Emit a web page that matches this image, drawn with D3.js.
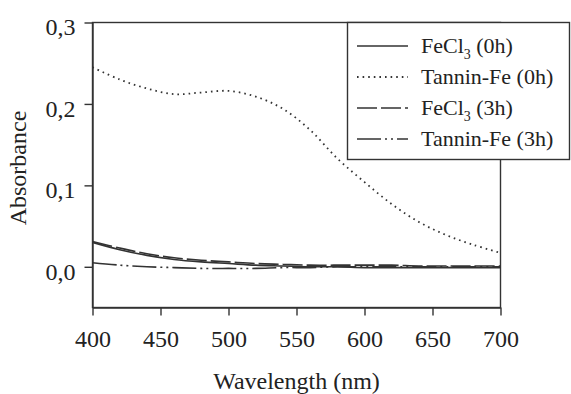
<!DOCTYPE html>
<html><head><meta charset="utf-8">
<script src="https://cdn.jsdelivr.net/npm/d3@7"></script>
<style>
html,body{margin:0;padding:0;background:#fff;}
text{font-family:"Liberation Serif","Times New Roman",serif;fill:#222;}
</style></head>
<body>
<svg id="chart" width="571" height="394"></svg>
<script>
const wavelengths = [400,420,440,460,480,500,520,540,560,580,600,620,640,660,680,700];
const fecl3_0h   = [0.030,0.021,0.014,0.009,0.006,0.004,0.002,0.001,0.000,0.000,-0.001,-0.001,-0.001,-0.001,-0.001,-0.001];
const tannin_0h  = [0.245,0.230,0.219,0.212,0.214,0.216,0.209,0.194,0.168,0.133,0.104,0.077,0.055,0.039,0.027,0.017];
const fecl3_3h   = [0.031,0.023,0.016,0.011,0.008,0.006,0.004,0.003,0.002,0.002,0.002,0.002,0.001,0.001,0.001,0.001];
const tannin_3h  = [0.005,0.002,0.000,-0.001,-0.002,-0.002,-0.002,-0.001,-0.001,0.000,0.000,0.000,0.000,0.000,0.000,0.000];
const seriesNames = ["FeCl\u2083 (0h)","Tannin-Fe (0h)","FeCl\u2083 (3h)","Tannin-Fe (3h)"];
const xTicks = [400,450,500,550,600,650,700];
const yTicks = [0.0,0.1,0.2,0.3];
const yTickLabels = ["0,0","0,1","0,2","0,3"];

const series = [
  {name:"FeCl3 (0h)", base:"FeCl", sub:"3", rest:" (0h)", values:fecl3_0h, dash:null, w:1.6},
  {name:"Tannin-Fe (0h)", base:"Tannin-Fe (0h)", values:tannin_0h, dash:"1.6,4", w:1.8},
  {name:"FeCl3 (3h)", base:"FeCl", sub:"3", rest:" (3h)", values:fecl3_3h, dash:"20,4", w:1.6},
  {name:"Tannin-Fe (3h)", base:"Tannin-Fe (3h)", values:tannin_3h, dash:"24,4,2,4,2,4", w:1.6}
];

const svg = d3.select("#chart");
const L=92.5, R=500.5, T=22.5, B=307.5;
const x = d3.scaleLinear().domain([400,700]).range([L,R]);
const y = d3.scaleLinear().domain([-0.05,0.3]).range([B,T]);
const col = "#333";

// frame
svg.append("rect").attr("x",L).attr("y",T).attr("width",R-L).attr("height",B-T)
  .attr("fill","none").attr("stroke",col).attr("stroke-width",1.4);

// x axis
const xa = svg.append("g").attr("transform",`translate(0,${B})`)
  .call(d3.axisBottom(x).tickValues(xTicks).tickSize(8).tickSizeOuter(0).tickPadding(14));
xa.select(".domain").attr("stroke",col).attr("stroke-width",1.4);
xa.selectAll(".tick line").attr("stroke",col).attr("stroke-width",1.4);
xa.selectAll(".tick text").attr("font-size","24px").attr("font-family","Liberation Serif").attr("fill","#222");

// y axis
const ya = svg.append("g").attr("transform",`translate(${L},0)`)
  .call(d3.axisLeft(y).tickValues(yTicks).tickFormat((d,i)=>yTickLabels[i]).tickSize(8).tickSizeOuter(0).tickPadding(9));
ya.select(".domain").attr("stroke",col).attr("stroke-width",1.4);
ya.selectAll(".tick line").attr("stroke",col).attr("stroke-width",1.4);
ya.selectAll(".tick text").attr("font-size","24px").attr("font-family","Liberation Serif").attr("fill","#222").attr("dy","0.52em");

// axis titles
svg.append("text").attr("x",(L+R)/2).attr("y",389).attr("text-anchor","middle")
  .attr("font-size","24px").text("Wavelength (nm)");
svg.append("text").attr("transform","translate(26,168) rotate(-90)").attr("text-anchor","middle")
  .attr("font-size","24px").text("Absorbance");

// lines
const line = d3.line().x((d,i)=>x(wavelengths[i])).y(d=>y(d)).curve(d3.curveCatmullRom.alpha(0.5));
const plot = svg.append("g");
series.forEach(s=>{
  const p = plot.append("path").attr("d",line(s.values)).attr("fill","none")
    .attr("stroke",col).attr("stroke-width",s.w);
  if(s.dash) p.attr("stroke-dasharray",s.dash);
});

// legend
const lg = svg.append("g");
lg.append("rect").attr("x",347.5).attr("y",T).attr("width",222).attr("height",137)
  .attr("fill","#fff").attr("stroke",col).attr("stroke-width",1.4);
const rowY = [46,77,108,139];
series.forEach((s,i)=>{
  const ly = rowY[i];
  const p = lg.append("path").attr("d",`M357,${ly}H408`).attr("fill","none")
    .attr("stroke",col).attr("stroke-width",s.w);
  if(s.dash) p.attr("stroke-dasharray",s.dash);
  const t = lg.append("text").attr("x",421).attr("y",ly+7).attr("font-size","22px");
  if(s.sub){
    t.append("tspan").text(s.base);
    t.append("tspan").attr("font-size","14px").attr("dy","6").text(s.sub);
    t.append("tspan").attr("dy","-6").text(s.rest);
  } else {
    t.text(s.base);
  }
});
</script>
</body></html>
